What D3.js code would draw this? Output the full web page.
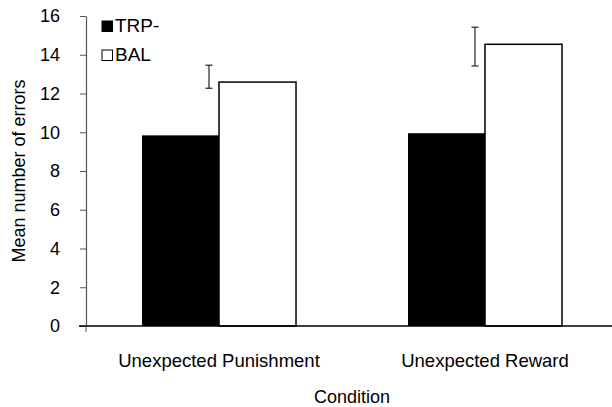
<!DOCTYPE html>
<meta charset="utf-8">
<style>
body { margin: 0; background: #fff; }
text { font-family: "Liberation Sans", Arial, sans-serif; fill: #000; }
</style>
<body>
<script src="https://d3js.org/d3.v7.min.js"></script>
<script>

// data
var conditions = ["Unexpected Punishment", "Unexpected Reward"];
var groups = ["TRP-", "BAL"];
var trpValues = [9.84, 9.95];
var balValues = [12.59, 14.54];
// error bar ends (low, high), drawn just left of the BAL bar
var errLow = [12.27, 13.42];
var errHigh = [13.46, 15.42];
var yTicks = [0, 2, 4, 6, 8, 10, 12, 14, 16];

var W = 612, H = 407;
var margin = {top: 16, left: 86, bottom: 81};
var plotH = H - margin.top - margin.bottom;

var svg = d3.select("body").append("svg")
    .attr("width", W)
    .attr("height", H);

var y = d3.scaleLinear().domain([0, 16]).range([margin.top + plotH, margin.top]);

// category bands run off the right edge, like the original
var x = d3.scaleBand().domain(conditions).range([margin.left, margin.left + 532]);
var xSub = d3.scaleBand().domain(groups).range([0, x.bandwidth()])
    .paddingInner(0).paddingOuter(0.727);

var rows = conditions.map(function(c, i) {
  return {cond: c, vals: [{g: "TRP-", v: trpValues[i]}, {g: "BAL", v: balValues[i]}],
          lo: errLow[i], hi: errHigh[i]};
});

var gCat = svg.selectAll(".cat")
  .data(rows)
  .enter().append("g")
    .attr("class", "cat")
    .attr("transform", d => `translate(${x(d.cond)},0)`);

gCat.selectAll("rect")
    .data(d => d.vals)
  .enter().append("rect")
    .attr("x", d => xSub(d.g))
    .attr("y", d => y(d.v))
    .attr("width", xSub.bandwidth())
    .attr("height", d => y(0) - y(d.v))
    .attr("fill", d => d.g == "TRP-" ? "#000" : "#fff")
    .attr("stroke", d => d.g == "TRP-" ? "none" : "#000")
    .attr("stroke-width", 1.5);

// error bars
var ex = xSub("BAL") - 10;
var err = gCat.append("g").attr("stroke", "#333").attr("stroke-width", 1.3);
err.append("line")
    .attr("x1", ex).attr("x2", ex)
    .attr("y1", d => y(d.lo)).attr("y2", d => y(d.hi));
err.append("line")
    .attr("x1", ex - 3.5).attr("x2", ex + 3.5)
    .attr("y1", d => y(d.lo)).attr("y2", d => y(d.lo));
err.append("line")
    .attr("x1", ex - 3.5).attr("x2", ex + 3.5)
    .attr("y1", d => y(d.hi)).attr("y2", d => y(d.hi));

// y axis
var yAxis = svg.append("g")
  .attr("transform", `translate(${margin.left},0)`)
  .call(d3.axisLeft(y).tickValues(yTicks).tickSize(6).tickPadding(20).tickSizeOuter(0));
yAxis.select(".domain").attr("stroke", "#555").attr("stroke-width", 1.2);
yAxis.selectAll(".tick line").attr("stroke", "#555");
yAxis.selectAll(".tick text").style("font-size", "18px").attr("font-family", null);

// x axis
var xAxis = svg.append("g")
  .attr("transform", `translate(0,${y(0)})`)
  .call(d3.axisBottom(x).tickSize(0).tickPadding(28).tickSizeOuter(0));
xAxis.select(".domain").attr("stroke", "#000").attr("stroke-width", 1.6)
    .attr("d", `M${margin.left - 7},0H${W}`);
xAxis.selectAll(".tick text").style("font-size", "18.5px").attr("font-family", null);
xAxis.append("line")
    .attr("x1", margin.left).attr("x2", margin.left)
    .attr("y1", 0).attr("y2", 6)
    .attr("stroke", "#555");

// axis titles
svg.append("text")
    .attr("x", 352)
    .attr("y", 403)
    .attr("text-anchor", "middle")
    .style("font-size", "18px")
    .text("Condition");

svg.append("text")
    .attr("transform", `translate(25,${margin.top + plotH / 2}) rotate(-90)`)
    .attr("text-anchor", "middle")
    .style("font-size", "18px")
    .text("Mean number of errors");

// legend
var leg = svg.selectAll(".leg")
  .data(groups)
  .enter().append("g")
    .attr("class", "leg")
    .attr("transform", (d, i) => `translate(102,${21 + i * 29})`);
leg.append("rect")
    .attr("width", 10.5).attr("height", 10.5)
    .attr("fill", d => d == "TRP-" ? "#000" : "#fff")
    .attr("stroke", "#000").attr("stroke-width", 1);
leg.append("text")
    .attr("x", 13).attr("y", 10.5)
    .style("font-size", "19px")
    .text(d => d);

</script>
</body>
